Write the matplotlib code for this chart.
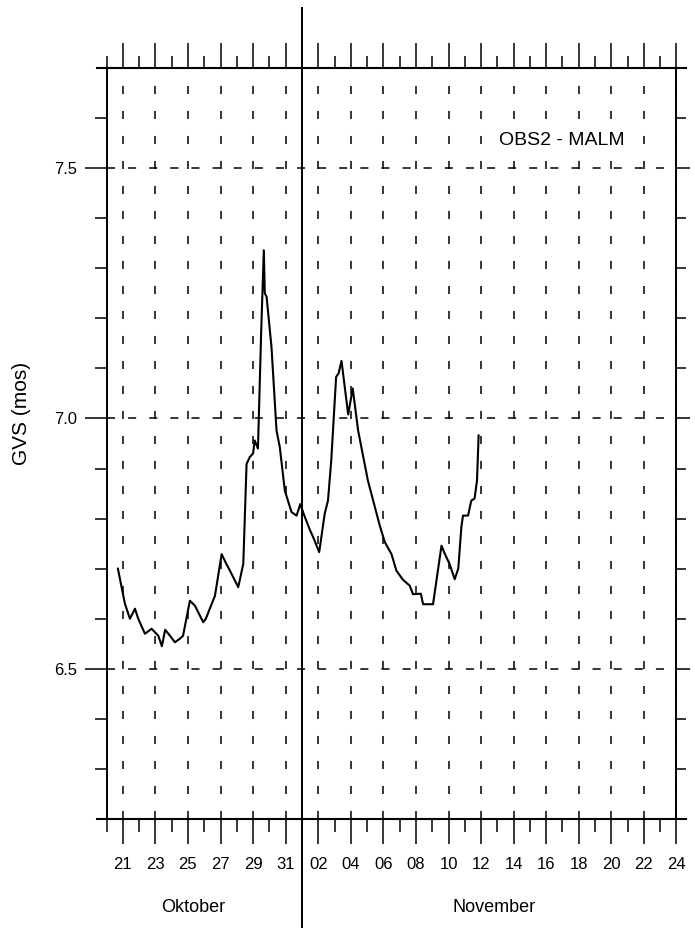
import matplotlib
matplotlib.use('Agg')
import matplotlib.pyplot as plt
import matplotlib.transforms as mtransforms
from matplotlib.ticker import FixedLocator

plt.rcParams['font.family'] = ['Liberation Sans', 'DejaVu Sans']
plt.rcParams['lines.scale_dashes'] = False

# ---- data (day counted from 1 October; 1 November = 32) ----
days = [20.70, 21.13, 21.44, 21.75, 21.95, 22.36, 22.77, 23.18, 23.40, 23.60,
        23.90, 24.20, 24.50, 24.70, 25.12, 25.43, 25.94, 26.10, 26.66, 27.07,
        27.35, 27.58, 28.09, 28.40, 28.60, 28.80, 29.00, 29.10, 29.30, 29.50,
        29.66, 29.72, 29.83, 30.13, 30.44, 30.64, 30.95, 31.36, 31.67, 31.90,
        32.10, 32.48, 32.69, 33.06, 33.40, 33.60, 33.80, 34.10, 34.25, 34.43,
        34.84, 35.12, 35.45, 36.05, 36.78, 37.09, 37.50, 37.80, 38.20, 38.62,
        38.82, 39.30, 39.44, 40.05, 40.57, 40.77, 41.07, 41.38, 41.60, 41.79,
        41.89, 42.20, 42.40, 42.60, 42.75, 42.85]
gvs = [6.700, 6.630, 6.600, 6.620, 6.600, 6.570, 6.580, 6.566, 6.545, 6.578,
       6.566, 6.553, 6.560, 6.566, 6.636, 6.626, 6.593, 6.600, 6.646, 6.729,
       6.710, 6.696, 6.663, 6.710, 6.909, 6.923, 6.930, 6.956, 6.940, 7.176,
       7.336, 7.250, 7.243, 7.143, 6.976, 6.943, 6.856, 6.813, 6.806, 6.829,
       6.810, 6.778, 6.763, 6.733, 6.810, 6.836, 6.916, 7.083, 7.090, 7.115,
       7.008, 7.060, 6.976, 6.876, 6.786, 6.753, 6.729, 6.696, 6.678, 6.666,
       6.649, 6.650, 6.629, 6.629, 6.746, 6.730, 6.709, 6.679, 6.700, 6.783,
       6.806, 6.806, 6.836, 6.840, 6.876, 6.966]

x_major = [21, 23, 25, 27, 29, 31, 33, 35, 37, 39, 41, 43, 45, 47, 49, 51, 53, 55]
x_minor = [20, 22, 24, 26, 28, 30, 32, 34, 36, 38, 40, 42, 44, 46, 48, 50, 52, 54]
x_labels = ['21', '23', '25', '27', '29', '31', '02', '04', '06', '08', '10',
            '12', '14', '16', '18', '20', '22', '24']
y_major = [6.5, 7.0, 7.5]
y_minor = [6.3, 6.4, 6.6, 6.7, 6.8, 6.9, 7.1, 7.2, 7.3, 7.4, 7.6]
y_labels = ['6.5', '7.0', '7.5']
months = ['Oktober', 'November']
month_pos = [25.3, 43.8]
month_split = 32
station = 'OBS2 - MALM'

fig = plt.figure(figsize=(6.95, 9.32), dpi=100)
ax = fig.add_axes([0.15324, 0.12124, 0.82014, 0.8058])

ax.plot(days, gvs, color='black', lw=1.5, zorder=4)
ax.set_xlim(20, 55)
ax.set_ylim(6.2, 7.7)

ax.xaxis.set_major_locator(FixedLocator(x_major))
ax.xaxis.set_minor_locator(FixedLocator(x_minor))
ax.set_xticklabels(x_labels)
ax.yaxis.set_major_locator(FixedLocator(y_major))
ax.yaxis.set_minor_locator(FixedLocator(y_minor))
ax.set_yticklabels(y_labels)

ax.tick_params(axis='x', which='major', direction='out', length=18, width=1.1,
               top=True, bottom=True, labelsize=12, pad=9)
ax.tick_params(axis='x', which='minor', direction='out', length=9, width=1.1,
               top=True, bottom=True)
ax.tick_params(axis='y', which='major', direction='out', length=16, width=1.1,
               left=True, right=True, labelsize=12, pad=5)
ax.tick_params(axis='y', which='minor', direction='out', length=8.5, width=1.1,
               left=True, right=True)
for t in ax.yaxis.get_major_ticks():
    t.tick2line.set_markersize(10)
for t in ax.yaxis.get_minor_ticks():
    t.tick2line.set_markersize(7)

for s in ax.spines.values():
    s.set_linewidth(1.4)

ax.xaxis.grid(True, which='major', color='black', lw=1.1, linestyle=(0, (5.8, 12.2)))
ax.yaxis.grid(True, which='major', color='black', lw=1.1, linestyle=(0, (5.8, 9.4)))

blend = mtransforms.blended_transform_factory(ax.transData, ax.transAxes)
ax.plot([month_split, month_split], [-0.1438, 1.08], transform=blend,
        clip_on=False, color='black', lw=1.4, zorder=5)
ax.plot([19.4, 55.6], [1, 1], transform=blend, clip_on=False, color='black', lw=1.5)
ax.plot([19.4, 55.6], [0, 0], transform=blend, clip_on=False, color='black', lw=1.5)

for name, pos in zip(months, month_pos):
    ax.text(pos, -0.1185, name, transform=blend, ha='center', va='center', fontsize=13)

ax.text(-0.149, 0.5406, 'GVS (mos)', transform=ax.transAxes, rotation=90,
        ha='center', va='center', fontsize=15)

ax.text(47.95, 7.556, station, ha='center', va='center', fontsize=14, zorder=6,
        bbox=dict(facecolor='white', edgecolor='none', pad=1.5))

fig.savefig('out.png', dpi=100)
